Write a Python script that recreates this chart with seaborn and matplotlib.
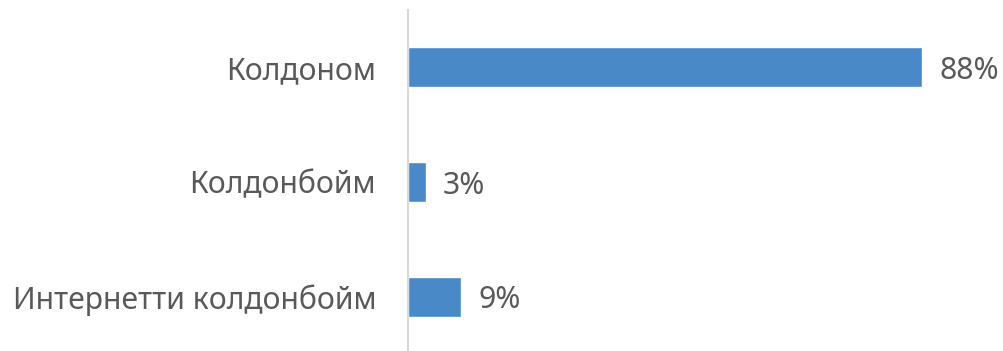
import matplotlib
matplotlib.use("Agg")
import matplotlib.pyplot as plt
import seaborn as sns
import pandas as pd

categories = ["Колдоном", "Колдонбойм", "Интернетти колдонбойм"]
values = [88, 3, 9]
labels = ["88%", "3%", "9%"]

sns.set_theme(style="white")
plt.rcParams["font.family"] = ["Noto Sans", "DejaVu Sans"]

df = pd.DataFrame({"category": categories, "value": values})

fig = plt.figure(figsize=(10.04, 3.51), dpi=100)
ax = fig.add_axes([408 / 1004, 0, 584 / 1004, 341 / 351])

sns.barplot(data=df, y="category", x="value", color="#4A89C8", width=0.35,
            saturation=1, ax=ax, orient="h")

ax.set_xlim(0, 100)
ax.set_ylim(2.47, -0.5)
ax.set_xlabel("")
ax.set_ylabel("")
ax.set_xticks([])
for s in ["top", "right", "bottom"]:
    ax.spines[s].set_visible(False)
ax.spines["left"].set_color("#D9D9D9")
ax.spines["left"].set_linewidth(1.5)
ax.tick_params(axis="y", length=0, pad=23, labelsize=21.7, labelcolor="#595959")

for i, (v, lab) in enumerate(zip(values, labels)):
    ax.text(v + 3, i + 0.03, lab, va="center", ha="left", fontsize=21.7, color="#595959")

fig.savefig("out.png", dpi=100)
